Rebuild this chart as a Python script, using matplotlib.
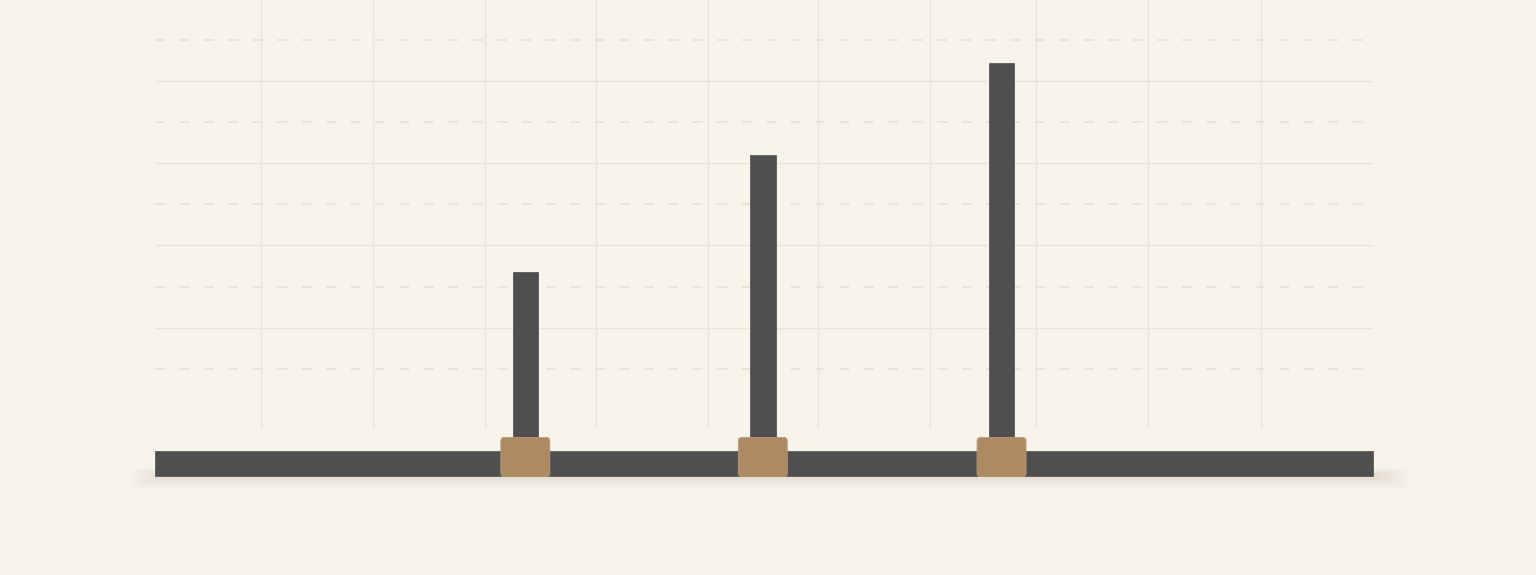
import numpy as np
import matplotlib
matplotlib.use("Agg")
import matplotlib.pyplot as plt
from matplotlib.patches import Rectangle, FancyBboxPatch

# ---- data ----
milestone_pos = [30.4, 49.9, 69.5]          # position along the 0-100 timeline
milestone_val = [43.6, 71.9, 94.3]          # height of each vertical bar
solid_grid_y = [30, 50, 70, 90]
dashed_grid_y = [20, 40, 60, 80, 100]
vertical_grid_x = [8.7, 17.9, 27.1, 36.2, 45.4, 54.4, 63.6, 72.3, 81.5, 90.8]
timeline_start, timeline_end = 0, 100

BG = "#f9f4eb"
DARK = "#4f4f4f"
TAN = "#ac8a63"
GRID = "#e9e3da"

fig = plt.figure(figsize=(15.36, 5.75), dpi=100, facecolor=BG)
ax = fig.add_axes([0, 0, 1, 1])
ax.set_facecolor(BG)
ax.set_xlim(-12.73, 113.38)
ax.set_ylim(-30.17, 109.73)
ax.axis("off")

# grid
ax.vlines(vertical_grid_x, 5.8, 109.73, color=GRID, lw=0.9, zorder=1)
ax.hlines(solid_grid_y, timeline_start, timeline_end, color=GRID, lw=1.0, zorder=1)
for y in dashed_grid_y:
    ax.plot([timeline_start, timeline_end], [y, y], color="#e6dfd4", lw=1.1,
            dashes=(6.5, 9.5), zorder=1)

# soft shadow under the timeline
for i in range(8):
    ax.add_patch(Rectangle((timeline_start + 0.5 - 0.35 * i, -6.6 - 0.35 * i),
                           (timeline_end - timeline_start) + 0.7 * i, 1.2 + 0.5 * i,
                           facecolor="#8a7d6a", edgecolor="none", alpha=0.018, zorder=2))

# timeline bar
ax.add_patch(Rectangle((timeline_start, -6.08), timeline_end - timeline_start, 6.08,
                       facecolor=DARK, edgecolor="#5c5c5c", lw=0.6, zorder=3))

# vertical bars
block_top = 3.16
ax.bar(milestone_pos, [v - block_top for v in milestone_val], bottom=block_top,
       width=2.09, color=DARK, edgecolor="#5a5a5a", lw=0.6, zorder=4)

# tan blocks
for x in milestone_pos:
    ax.add_patch(FancyBboxPatch((x - 2.01 + 0.15, -6.08 + 0.3), 4.02 - 0.3, 9.24 - 0.6,
                                boxstyle="round,pad=0.15,rounding_size=0.3",
                                mutation_aspect=3.0,
                                facecolor=TAN, edgecolor="#bb9c7c", lw=0.6, zorder=5))

fig.savefig("out.png", dpi=100, facecolor=BG)
